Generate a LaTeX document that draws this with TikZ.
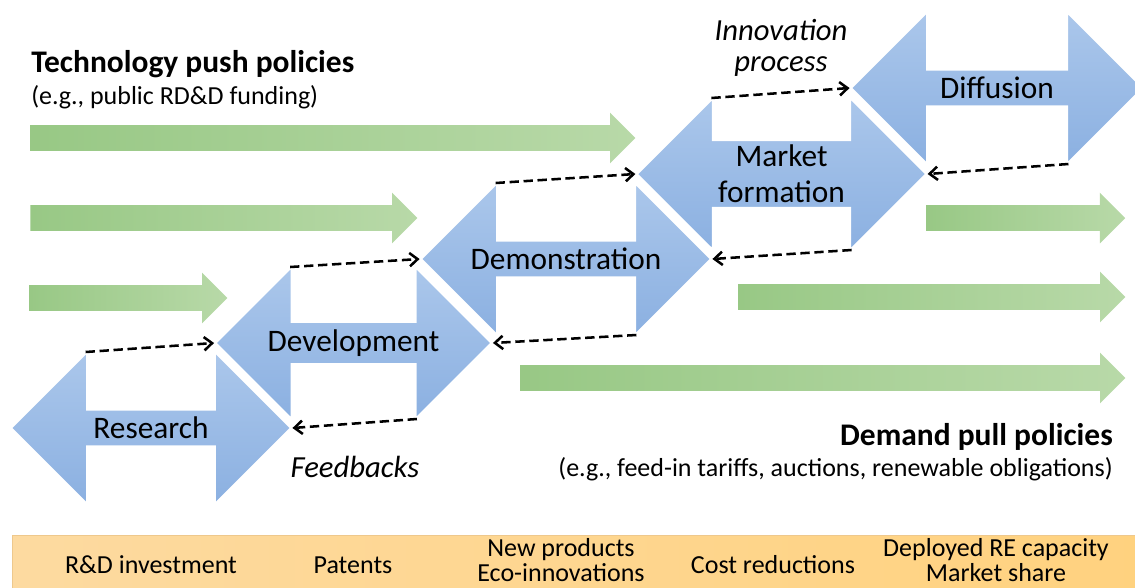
\documentclass[tikz,border=0pt]{standalone}
\usepackage{fontspec}
\setmainfont{Carlito}
\usetikzlibrary{shapes.arrows,arrows.meta,calc}
\definecolor{bluetop}{RGB}{171,199,235}
\definecolor{bluebot}{RGB}{139,176,225}
\definecolor{greenl}{RGB}{152,200,133}
\definecolor{greenr}{RGB}{184,217,168}
\definecolor{orangel}{RGB}{253,218,160}
\definecolor{oranger}{RGB}{255,210,127}
\definecolor{bandline}{RGB}{238,200,140}

\begin{document}
\begin{tikzpicture}[x=0.75pt, y=-0.75pt,
	stage/.style={double arrow, double arrow head extend=28pt, minimum width=114pt,
		inner sep=0pt, top color=bluetop, bottom color=bluebot, draw=white,
		line width=1.5pt, align=center, font=\fontsize{23.5}{27}\selectfont},
	policy/.style={single arrow, single arrow head extend=9.4pt, minimum width=37.5pt,
		inner xsep=0pt, inner ysep=9.4pt, left color=greenl, right color=greenr},
	link/.style={dash pattern=on 7pt off 3.5pt, line width=1.9pt,
		-{Straight Barb[length=6pt,width=10pt]}},
	metric/.style={align=center, inner sep=0pt, font=\fontsize{19.5}{18.5}\selectfont}]
		\useasboundingbox (0,0) rectangle (1135,587);
		
		% policy arrows
		\node[policy, minimum height=453.75pt] (tp1)at(326.5,138) {};
		\node[policy, minimum height=290.25pt] (tp2)at(217.5,218) {};
		\node[policy, minimum height=148.5pt] (tp3)at(122,298) {};
		\node[policy, minimum height=149pt] (dp1)at(1019.5,218) {};
		\node[policy, minimum height=290.25pt] (dp2)at(925.5,297) {};
		\node[policy, minimum height=453.75pt] (dp3)at(816.5,378) {};
		
		% stages
		\node[stage, minimum height=210pt] (res)at(151,428) {Research};
		\node[stage, minimum height=207pt] (dev)at(353.5,343) {Development};
		\node[stage, minimum height=217.5pt] (demo)at(566,259) {Demonstration};
		\node[stage, minimum height=217pt] (mkt)at(781.5,174) {Market\\formation};
		\node[stage, minimum height=219pt] (dif)at(997,88) {Diffusion};
		
		% forward links
		\draw[link] ($(res.west)+(76,-76)$) -- (dev.west);
		\draw[link] ($(dev.west)+(76,-76)$) -- (demo.west);
		\draw[link] ($(demo.west)+(76,-76)$) -- (mkt.west);
		\draw[link] ($(mkt.west)+(76,-76)$) -- (dif.west);
		% feedbacks
		\draw[link] ($(dev.east)+(-76,76)$) -- (res.east);
		\draw[link] ($(demo.east)+(-76,76)$) -- (dev.east);
		\draw[link] ($(mkt.east)+(-76,76)$) -- (demo.east);
		\draw[link] ($(dif.east)+(-76,76)$) -- (mkt.east);
		
		\node[anchor=base west, inner sep=0pt, font=\fontsize{23.6}{27}\selectfont\bfseries] (push)at(31,72) {Technology push policies};
		\node[anchor=base west, inner sep=0pt, font=\fontsize{19.5}{23}\selectfont] (pushex)at(31,104) {(e.g., public RD\&D funding)};
		\node[anchor=base east, inner sep=0pt, font=\fontsize{23.6}{27}\selectfont\bfseries] (pull)at(1113,445) {Demand pull policies};
		\node[anchor=base east, inner sep=0pt, font=\fontsize{19.5}{23}\selectfont] (pullex)at(1113,476) {(e.g., feed-in tariffs, auctions, renewable obligations)};
		\node[align=center, inner sep=0pt, font=\fontsize{23}{23}\selectfont\itshape] (innov)at(781,48) {Innovation\\process};
		\node[inner sep=0pt, font=\fontsize{23}{27}\selectfont\itshape] (fbk)at(355,467) {Feedbacks};
		
		% indicators
		\node[draw=bandline, left color=orangel, right color=oranger, anchor=north west,
			minimum width=846pt, minimum height=45pt, inner sep=0pt] (band)at(12,535) {};
		\node[metric] (rdi)at(151,565) {R\&D investment};
		\node[metric] (pat)at(353,565) {Patents};
		\node[metric] (prod)at(561,560) {New products\\Eco-innovations};
		\node[metric] (cost)at(773,565) {Cost reductions};
		\node[metric] (cap)at(996,560) {Deployed RE capacity\\Market share};
		
\end{tikzpicture}
\end{document}
